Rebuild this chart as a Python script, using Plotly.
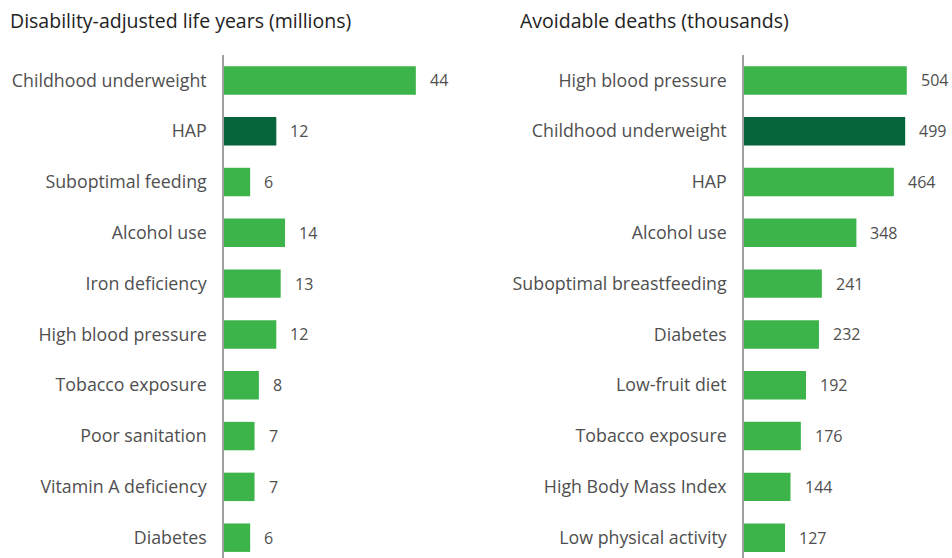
import plotly.graph_objects as go

W, H = 952, 558

# Left panel: disability-adjusted life years (millions)
daly_labels = ["Childhood underweight", "HAP", "Suboptimal feeding", "Alcohol use",
               "Iron deficiency", "High blood pressure", "Tobacco exposure",
               "Poor sanitation", "Vitamin A deficiency", "Diabetes"]
daly_values = [44, 12, 6, 14, 13, 12, 8, 7, 7, 6]

# Right panel: avoidable deaths (thousands)
death_labels = ["High blood pressure", "Childhood underweight", "HAP", "Alcohol use",
                "Suboptimal breastfeeding", "Diabetes", "Low-fruit diet",
                "Tobacco exposure", "High Body Mass Index", "Low physical activity"]
death_values = [504, 499, 464, 348, 241, 232, 192, 176, 144, 127]

# Highlighted bar in each panel
daly_highlight = "HAP"
death_highlight = "Childhood underweight"

LIGHT = "#3cb44a"
DARK = "#05643a"
LABEL_GREY = "#4f4f4f"
FONT = "Open Sans"


def colors(labels, hl):
    return [DARK if c == hl else LIGHT for c in labels]


fig = go.Figure()
fig.add_trace(go.Bar(
    x=daly_values, y=daly_labels, orientation="h",
    marker=dict(color=colors(daly_labels, daly_highlight), line=dict(width=0)),
    width=0.56, xaxis="x", yaxis="y", hoverinfo="x+y",
))
fig.add_trace(go.Bar(
    x=death_values, y=death_labels, orientation="h",
    marker=dict(color=colors(death_labels, death_highlight), line=dict(width=0)),
    width=0.56, xaxis="x2", yaxis="y2", hoverinfo="x+y",
))

annotations = []
for vals, labs, xref, yref in [(daly_values, daly_labels, "x", "y"),
                               (death_values, death_labels, "x2", "y2")]:
    for v, c in zip(vals, labs):
        annotations.append(dict(
            x=v, y=c, xref=xref, yref=yref, text=str(v), showarrow=False,
            xanchor="left", xshift=12, font=dict(family=FONT, size=16, color=LABEL_GREY),
        ))

annotations += [
    dict(x=8 / W, y=1 - 20 / H, xref="paper", yref="paper", xanchor="left", yanchor="middle",
         text="Disability-adjusted life years (millions)", showarrow=False,
         font=dict(family=FONT, size=19.5, color="#222222")),
    dict(x=518 / W, y=1 - 20 / H, xref="paper", yref="paper", xanchor="left", yanchor="middle",
         text="Avoidable deaths (thousands)", showarrow=False,
         font=dict(family=FONT, size=19.5, color="#222222")),
]

y_top = 1 - 55 / H
yax = dict(
    autorange=False, range=[9.4, -0.5], type="category",
    showline=True, linecolor="#a0a0a0", linewidth=1.5,
    showgrid=False, zeroline=False, ticks="", ticklabelstandoff=12,
    tickfont=dict(family=FONT, size=17.8, color=LABEL_GREY),
    domain=[0, y_top],
)
fig.update_layout(
    width=W, height=H, margin=dict(l=0, r=0, t=0, b=0),
    paper_bgcolor="white", plot_bgcolor="white", showlegend=False,
    bargap=0.44,
    xaxis=dict(domain=[224 / W, 470 / W], range=[0, 246 / 4.36], visible=False),
    xaxis2=dict(domain=[744 / W, 1], range=[0, 208 / 0.323], visible=False),
    yaxis=dict(anchor="x", **yax),
    yaxis2=dict(anchor="x2", **yax),
    annotations=annotations,
)

fig.write_html("out.html")
